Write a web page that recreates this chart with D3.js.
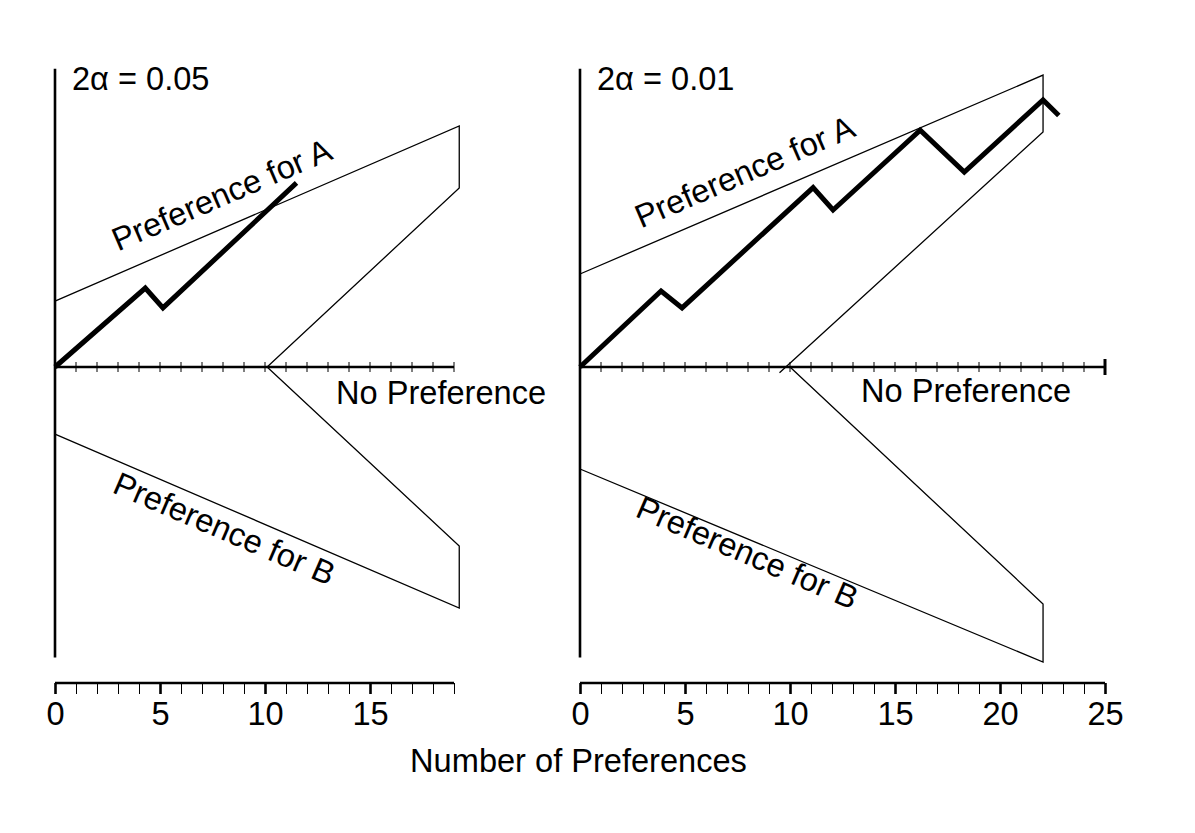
<!DOCTYPE html>
<html>
<head>
<meta charset="utf-8">
<script src="https://cdn.jsdelivr.net/npm/d3@7"></script>
<style>
  html, body { margin: 0; padding: 0; background: #fff; }
  svg { display: block; }
  text { font-family: "Liberation Sans", Arial, Helvetica, sans-serif; fill: #000; }
</style>
</head>
<body>
<svg id="chart" width="1195" height="833"></svg>
<script>
// ---------- data ----------
const panelTitles = ["2\u03B1 = 0.05", "2\u03B1 = 0.01"];
const xMaxes = [19, 25];
const tickLabelsLeft = [0, 5, 10, 15];
const tickLabelsRight = [0, 5, 10, 15, 20, 25];
const xAxisTitle = "Number of Preferences";
const regionLabels = ["Preference for A", "No Preference", "Preference for B"];

// boundary polylines (x = number of preferences, y = excess preferences for A)
const leftBoundX = [0, 19.25, 19.25, 10.1, 19.25, 19.25, 0];
const leftBoundY = [3.38, 12.36, 9.18, 0, -9.18, -12.36, -3.44];
const rightBoundAX = [0, 22.05, 22.05, 9.5];
const rightBoundAY = [4.77, 14.97, 12.05, -0.3];
const rightBoundBX = [10, 22.05, 22.05, 0];
const rightBoundBY = [0, -12.15, -15.13, -5.23];

// observed sequences
const walkLeftX = [0, 4.3, 5.14, 11.5];
const walkLeftY = [0, 4.05, 3.03, 9.44];
const walkRightX = [0, 3.86, 4.86, 11.1, 12.05, 16.2, 18.3, 22.05, 22.8];
const walkRightY = [0, 3.9, 3.03, 9.2, 8.05, 12.15, 10.0, 13.7, 12.9];

// ---------- drawing ----------
const svg = d3.select("#chart");
const y = d3.scaleLinear().domain([-15, 15]).range([659.5, 74.5]);
const xL = d3.scaleLinear().domain([0, 19]).range([55, 454]);
const xR = d3.scaleLinear().domain([0, 25]).range([580, 1105]);
const axisY = 683;
const fs = 32.6;

function zip(xs, ys) { return xs.map((v, i) => [v, ys[i]]); }

function drawPanel(x, xMax, tickLabels, title, bounds, walk, endTickBig) {
  const g = svg.append("g");
  const line = d3.line().x(d => x(d[0])).y(d => y(d[1]));

  // vertical axis
  g.append("line")
    .attr("x1", x(0)).attr("x2", x(0))
    .attr("y1", y(15.3)).attr("y2", y(-14.9))
    .attr("stroke", "#000").attr("stroke-width", 2.6);

  // boundaries
  bounds.forEach(b => {
    g.append("path").attr("d", line(b))
      .attr("fill", "none").attr("stroke", "#000").attr("stroke-width", 1.3)
      .attr("stroke-linejoin", "miter");
  });

  // zero line with ticks crossing it
  g.append("line")
    .attr("x1", x(0)).attr("x2", x(xMax))
    .attr("y1", y(0)).attr("y2", y(0))
    .attr("stroke", "#000").attr("stroke-width", 2.6);
  const zt = d3.range(1, xMax + 1);
  g.selectAll(".zt").data(zt).enter().append("line")
    .attr("x1", d => x(d)).attr("x2", d => x(d))
    .attr("y1", d => y(0) - ((endTickBig && d === xMax) ? 8 : 5))
    .attr("y2", d => y(0) + ((endTickBig && d === xMax) ? 8 : 5))
    .attr("stroke", "#000")
    .attr("stroke-width", d => (endTickBig && d === xMax) ? 3 : 1);

  // walk
  g.append("path").attr("d", line(walk))
    .attr("fill", "none").attr("stroke", "#000").attr("stroke-width", 5)
    .attr("stroke-linejoin", "miter").attr("stroke-linecap", "butt");

  // bottom axis
  const ax = d3.axisBottom(x)
    .tickValues(d3.range(0, xMax + 1))
    .tickSize(11).tickSizeOuter(0).tickPadding(8)
    .tickFormat(d => tickLabels.includes(d) ? d : "");
  const axg = g.append("g").attr("transform", `translate(0,${axisY})`).call(ax);
  axg.select(".domain").attr("stroke-width", 2.6).attr("d", `M${x(0)},0H${x(xMax)}`);
  axg.selectAll(".tick line")
    .attr("stroke-width", d => tickLabels.includes(d) ? 2.6 : 1);
  axg.selectAll(".tick text")
    .style("font-family", '"Liberation Sans", Arial, sans-serif')
    .attr("font-size", fs).attr("fill", "#000").attr("dy", "0.72em");

  // title
  g.append("text").attr("x", x(0) + 17).attr("y", 90)
    .attr("font-size", fs).text(title);
  return g;
}

drawPanel(xL, 19, tickLabelsLeft, panelTitles[0],
  [zip(leftBoundX, leftBoundY)], zip(walkLeftX, walkLeftY), false);
drawPanel(xR, 25, tickLabelsRight, panelTitles[1],
  [zip(rightBoundAX, rightBoundAY), zip(rightBoundBX, rightBoundBY)],
  zip(walkRightX, walkRightY), true);

// region labels
function label(txt, cx, cy, angle) {
  svg.append("text")
    .attr("transform", `translate(${cx},${cy}) rotate(${angle})`)
    .attr("text-anchor", "middle").attr("font-size", fs).text(txt);
}
label(regionLabels[0], 226, 205, -23.3);
label(regionLabels[2], 220, 539, 23.3);
label(regionLabels[0], 749, 182, -23.3);
label(regionLabels[2], 743, 563, 23.3);
svg.append("text").attr("x", 336).attr("y", 404).attr("font-size", fs).text(regionLabels[1]);
svg.append("text").attr("x", 861).attr("y", 402).attr("font-size", fs).text(regionLabels[1]);

// x axis title
svg.append("text").attr("x", 578.5).attr("y", 772).attr("text-anchor", "middle")
  .attr("font-size", fs).text(xAxisTitle);
</script>
</body>
</html>
